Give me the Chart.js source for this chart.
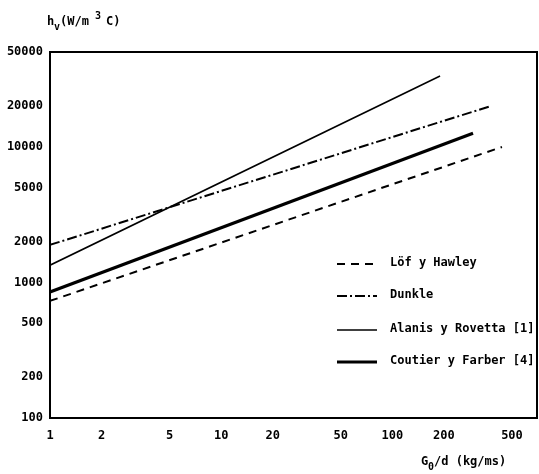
<!DOCTYPE html>
<html>
<head>
<meta charset="utf-8">
<script src="https://cdn.jsdelivr.net/npm/chart.js@4/dist/chart.umd.min.js"></script>
<style>
    html, body { margin: 0; padding: 0; background: #fff; }
    canvas { display: block; }
</style>
</head>
<body>
<canvas id="chart" width="539" height="474"></canvas>
<script>
// tick labels
const xTicks = [1, 2, 5, 10, 20, 50, 100, 200, 500];
const yTicks = [100, 200, 500, 1000, 2000, 5000, 10000, 20000, 50000];

// series (start / end of each straight line)
const seriesNames = ['Löf y Hawley', 'Dunkle', 'Alanis y Rovetta [1]', 'Coutier y Farber [4]'];
const lofX = [1, 437];
const lofY = [730, 9970];
const dunkleX = [1, 377];
const dunkleY = [1890, 20000];
const alanisX = [1, 190];
const alanisY = [1340, 33300];
const coutierX = [1, 296];
const coutierY = [850, 12600];

const FONT = '"DejaVu Sans Mono", monospace';

function pts(xs, ys) {
    return xs.map((x, i) => ({ x: x, y: ys[i] }));
}

const datasets = [
    { label: seriesNames[0], data: pts(lofX, lofY), borderWidth: 2, borderDash: [8, 6] },
    { label: seriesNames[1], data: pts(dunkleX, dunkleY), borderWidth: 2, borderDash: [10, 3, 2, 3] },
    { label: seriesNames[2], data: pts(alanisX, alanisY), borderWidth: 1.6, borderDash: [] },
    { label: seriesNames[3], data: pts(coutierX, coutierY), borderWidth: 3.2, borderDash: [] }
].map(d => Object.assign(d, {
    borderColor: '#000',
    backgroundColor: '#000',
    showLine: true,
    pointRadius: 0,
    fill: false
}));

// frame, axis titles and the in-plot legend
const decorations = {
    id: 'decorations',
    afterDraw(chart) {
        const ctx = chart.ctx;
        const a = chart.chartArea;
        ctx.save();
        ctx.strokeStyle = '#000';
        ctx.lineWidth = 2;
        ctx.strokeRect(a.left, a.top, a.right - a.left, a.bottom - a.top);

        ctx.fillStyle = '#000';
        ctx.textBaseline = 'alphabetic';
        ctx.textAlign = 'left';
        const big = 'bold 12px ' + FONT;
        const small = 'bold 10px ' + FONT;

        // y title: h_v(W/m^3 C)
        ctx.font = big;
        ctx.fillText('h', 47, 25);
        ctx.font = small;
        ctx.fillText('v', 54, 30);
        ctx.font = big;
        ctx.fillText('(W/m', 60, 25);
        ctx.font = small;
        ctx.fillText('3', 95, 19);
        ctx.font = big;
        ctx.fillText('C)', 106, 25);

        // x title: G_0/d (kg/ms)
        ctx.fillText('G', 421, 465);
        ctx.font = small;
        ctx.fillText('0', 428, 470);
        ctx.font = big;
        ctx.fillText('/d (kg/ms)', 434, 465);

        // legend
        const rowsY = [264, 296, 330, 362];
        chart.data.datasets.forEach((ds, i) => {
            const y = rowsY[i];
            ctx.beginPath();
            ctx.lineWidth = ds.borderWidth;
            ctx.setLineDash(ds.borderDash);
            ctx.moveTo(337, y);
            ctx.lineTo(377, y);
            ctx.stroke();
            ctx.setLineDash([]);
            ctx.font = big;
            ctx.textBaseline = 'middle';
            ctx.fillText(ds.label, 390, y - 1);
        });
        ctx.restore();
    }
};

const tickFont = { family: FONT, size: 12, weight: 'bold' };

new Chart(document.getElementById('chart'), {
    type: 'scatter',
    data: { datasets: datasets },
    options: {
        responsive: false,
        devicePixelRatio: 1,
        animation: false,
        layout: { padding: { top: 52, right: 2, left: 0, bottom: 0 } },
        plugins: {
            legend: { display: false },
            tooltip: { enabled: false }
        },
        scales: {
            x: {
                type: 'logarithmic',
                min: 1,
                max: 700,
                grid: { display: false, drawTicks: false },
                border: { display: false },
                afterBuildTicks: s => { s.ticks = xTicks.map(v => ({ value: v })); },
                afterFit: s => { s.height = 56; },
                ticks: {
                    font: tickFont,
                    color: '#000',
                    padding: 11,
                    autoSkip: false,
                    maxRotation: 0,
                    callback: v => String(v)
                }
            },
            y: {
                type: 'logarithmic',
                min: 100,
                max: 50000,
                grid: { display: false, drawTicks: false },
                border: { display: false },
                afterBuildTicks: s => { s.ticks = yTicks.map(v => ({ value: v })); },
                afterFit: s => { s.width = 50; },
                ticks: {
                    font: tickFont,
                    color: '#000',
                    padding: 7,
                    autoSkip: false,
                    callback: v => String(v)
                }
            }
        }
    },
    plugins: [decorations]
});
</script>
</body>
</html>
